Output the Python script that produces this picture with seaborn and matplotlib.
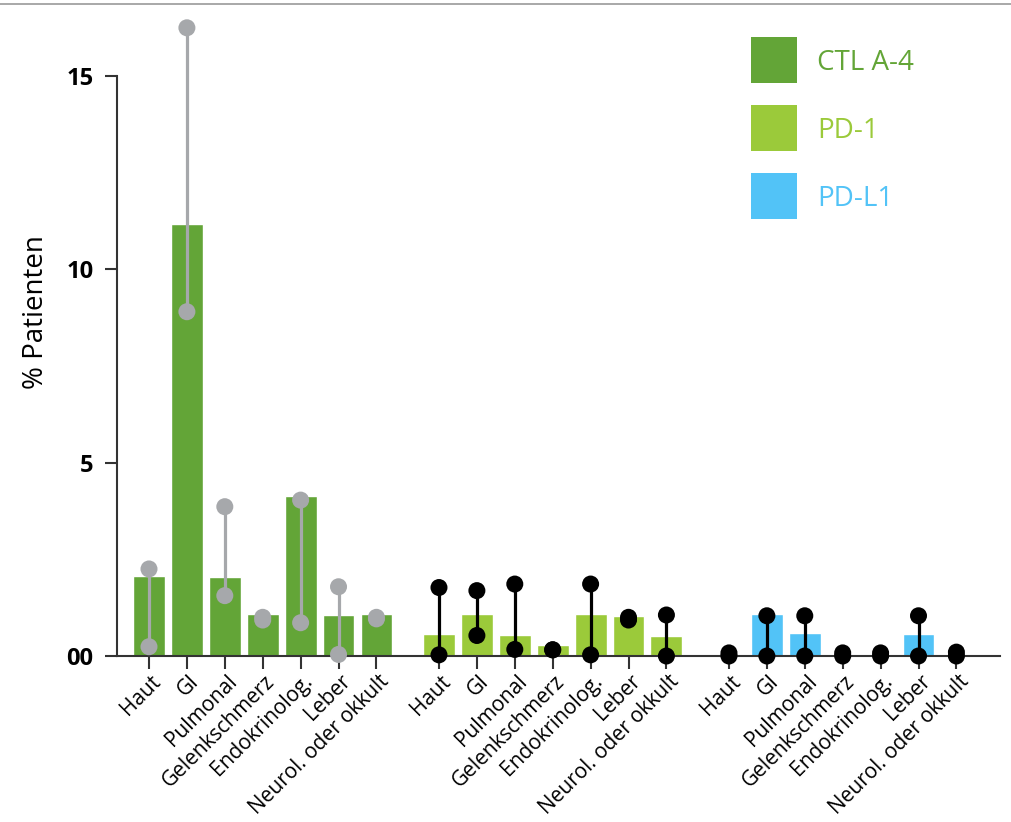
import matplotlib
matplotlib.use("Agg")
import matplotlib.pyplot as plt
from matplotlib.patches import Rectangle
from matplotlib.lines import Line2D
from matplotlib.transforms import ScaledTranslation
import pandas as pd
import seaborn as sns

# Immune-related adverse events by organ system, per checkpoint target
categories = ["Haut", "GI", "Pulmonal", "Gelenkschmerz", "Endokrinolog.",
              "Leber", "Neurol. oder okkult"]
groups = ["CTL A-4", "PD-1", "PD-L1"]

ctla4_pct = [2.07, 11.17, 2.04, 1.09, 4.14, 1.06, 1.09]
ctla4_lo = [0.24, 8.90, 1.56, 0.93, 0.86, 0.04, 0.96]
ctla4_hi = [2.25, 16.24, 3.86, 1.00, 4.03, 1.79, 1.00]

pd1_pct = [0.57, 1.09, 0.54, 0.28, 1.09, 1.03, 0.52]
pd1_lo = [0.03, 0.53, 0.17, 0.16, 0.03, 0.93, 0.00]
pd1_hi = [1.77, 1.69, 1.86, 0.16, 1.86, 1.00, 1.06]

pdl1_pct = [0.00, 1.09, 0.59, 0.00, 0.00, 0.57, 0.00]
pdl1_lo = [0.00, 0.00, 0.00, 0.00, 0.00, 0.00, 0.00]
pdl1_hi = [0.08, 1.04, 1.04, 0.08, 0.08, 1.04, 0.10]

y_ticks = [0, 5, 10, 15]
y_tick_labels = ["00", "5", "10", "15"]

group_colors = ["#63a537", "#9bca3a", "#52c3f7"]
range_colors = ["#a6a8ab", "#000000", "#000000"]

sns.set_theme(style="white")
plt.rcParams["font.family"] = ["Open Sans", "DejaVu Sans"]

W, H = 1011, 822
GROUP_STEP = 7.65
rows = []
series = zip(groups, [ctla4_pct, pd1_pct, pdl1_pct],
             [ctla4_lo, pd1_lo, pdl1_lo], [ctla4_hi, pd1_hi, pdl1_hi])
for g, (name, pct, lo, hi) in enumerate(series):
    for i, cat in enumerate(categories):
        rows.append(dict(pos=round(i + g * GROUP_STEP, 3), cat=cat, group=name,
                         pct=pct[i], lo=lo[i], hi=hi[i]))
df = pd.DataFrame(rows)

fig = plt.figure(figsize=(W / 100, H / 100), dpi=100)
ax = fig.add_axes([117 / W, 1 - 656 / H, (1000 - 117) / W, (656 - 10) / H])

sns.barplot(data=df, x="pos", y="pct", hue="group", palette=group_colors,
            hue_order=groups, native_scale=True, dodge=False, width=0.84,
            errorbar=None, saturation=1, legend=False, ax=ax, zorder=2)

# range whiskers with round end caps
for g, name in enumerate(groups):
    sub = df[df.group == name]
    ax.vlines(sub.pos, sub.lo, sub.hi, color=range_colors[g], lw=2.3,
              zorder=3, clip_on=False)
    for col in ("lo", "hi"):
        sns.scatterplot(x=sub.pos.values, y=sub[col].values, color=range_colors[g],
                        s=150, edgecolor="none", linewidth=0, zorder=4,
                        clip_on=False, legend=False, ax=ax)

ax.set_xlim(-0.844, 22.45)
ax.set_ylim(0, 16.7)

spine_color = "#333333"
for side in ("top", "right"):
    ax.spines[side].set_visible(False)
for side in ("left", "bottom"):
    ax.spines[side].set_color(spine_color)
    ax.spines[side].set_linewidth(1.5)
ax.spines["left"].set_bounds(0, 15)
ax.tick_params(axis="both", which="major", bottom=True, left=True,
               direction="out", length=9, width=1.5, color=spine_color)
ax.tick_params(axis="x", pad=7)
ax.tick_params(axis="y", pad=8)

ax.set_xticks(df.pos.values)
ax.set_xticklabels(list(df.cat), rotation=45, ha="right", va="center",
                   rotation_mode="anchor", fontsize=15, color="black")
# nudge the slanted labels so their ends sit just right of each tick
shift = ScaledTranslation(9 / 100, 0, fig.dpi_scale_trans)
for lab in ax.get_xticklabels():
    lab.set_transform(lab.get_transform() + shift)

ax.set_yticks(y_ticks)
ax.set_yticklabels(y_tick_labels, fontsize=17, fontweight="bold", color="black")

ax.set_xlabel("")
ax.set_ylabel("% Patienten", fontsize=20, color="black")
ax.yaxis.set_label_coords(-0.076, 0.5325)

# legend: colour swatches with matching coloured labels
for k, (name, col) in enumerate(zip(groups, group_colors)):
    top = 37 + 68 * k
    fig.add_artist(Rectangle((751 / W, 1 - (top + 46) / H), 46 / W, 46 / H,
                             transform=fig.transFigure, facecolor=col,
                             edgecolor="none"))
    fig.text(817 / W, 1 - (top + 23) / H, name, color=col, fontsize=20,
             ha="left", va="center_baseline")

fig.add_artist(Line2D([0, 1], [1 - 4 / H] * 2, transform=fig.transFigure,
                      color="#9a9a9a", lw=1.2))

fig.savefig("out.png", dpi=100)
